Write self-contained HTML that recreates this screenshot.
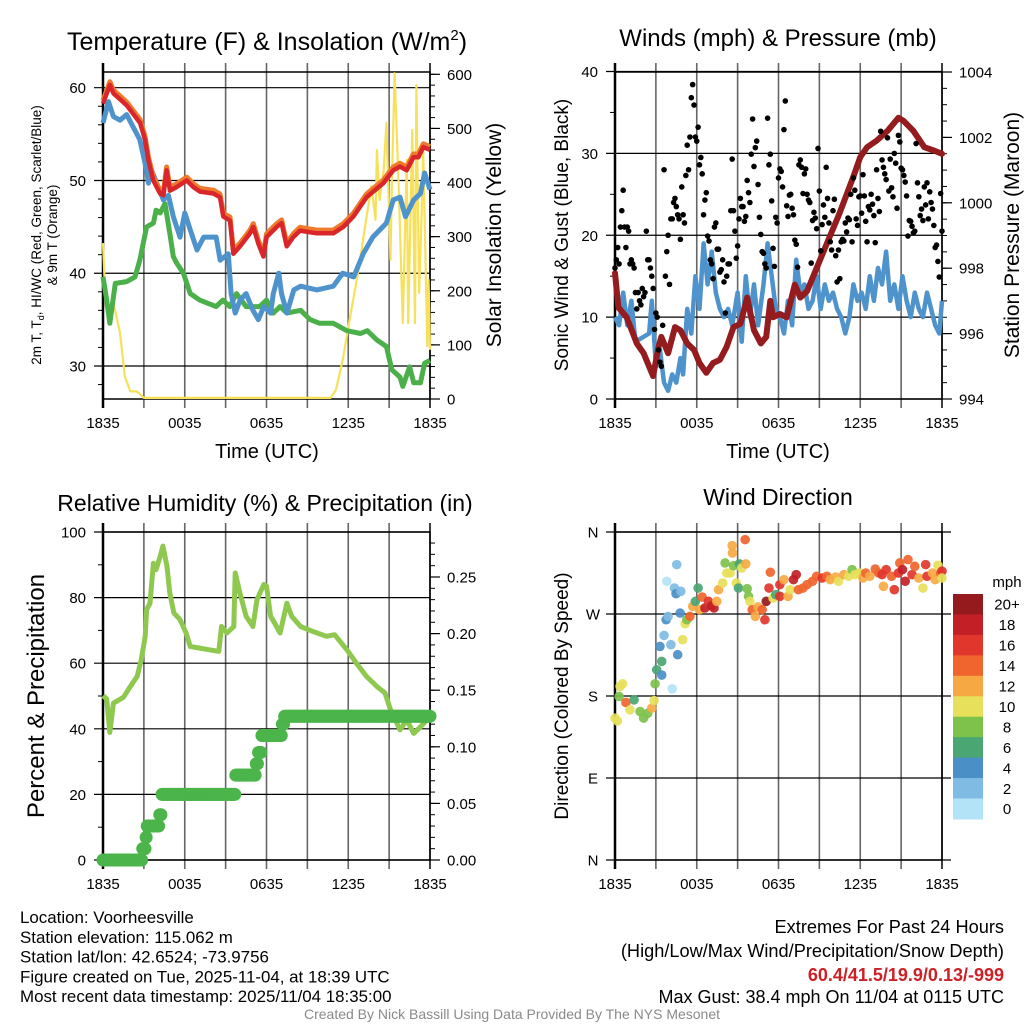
<!DOCTYPE html>
<html><head><meta charset="utf-8">
<style>
html,body{margin:0;padding:0;background:#fff;}
svg{display:block;font-family:"Liberation Sans",sans-serif;}
</style></head>
<body>
<svg id="fig" width="1024" height="1024" viewBox="0 0 1024 1024" xmlns="http://www.w3.org/2000/svg"></svg>
<script>
// ---------- DATA ----------
const tempHours=[0,0.51,0.76,1.74,2.72,3.08,3.33,3.69,4.18,4.43,4.67,4.92,5.41,6.14,6.63,7.12,8.10,8.59,8.83,9.32,9.57,10.06,10.79,11.03,11.40,11.77,12.01,12.75,13.11,13.48,13.97,14.46,15.68,16.90,17.64,18.37,19.35,20.57,21.31,21.80,22.29,22.78,23.14,23.51,24];
const tempVals=[58.3,60.3,59.4,58.1,56.2,54.4,52.2,50.0,48.6,48.4,51.1,48.9,49.3,50.0,49.3,48.8,48.6,48.2,46.1,45.7,42.1,42.9,44.3,45.0,43.2,41.8,43.9,45.0,45.4,42.9,43.9,44.6,44.3,44.3,45.0,46.1,48.2,49.7,51.1,51.5,51.1,52.5,52.5,53.6,53.3];
const wcHours=[0,0.4,0.76,1.25,1.74,2.2,2.7,3.2,3.33,3.57,4.43,4.8,5.16,5.65,6.0,6.4,6.9,7.4,8.3,8.6,9.2,9.4,9.7,10.06,10.5,11.0,11.4,11.8,12.3,12.5,12.9,13.1,13.5,14.0,14.5,15.7,16.9,17.6,18.4,19.1,19.8,20.8,21.3,21.8,22.2,22.8,23.3,23.6,24];
const wcVals=[56.2,58.5,56.9,56.5,57.1,55.8,54.4,51.1,49.7,51.1,47.9,48.4,46.1,43.9,46.5,44.7,42.5,43.9,43.9,41.4,42.1,37.8,35.7,37.1,37.8,36.0,35.0,36.4,35.7,37.8,40.0,37.8,35.7,38.2,38.6,38.2,38.6,40.0,39.6,42.1,43.9,45.4,47.9,48.2,46.1,47.9,48.6,50.8,49.0];
const dewHours=[0,0.27,0.5,0.9,1.74,2.35,2.7,3.2,3.7,3.9,4.2,4.55,4.9,5.16,5.4,5.9,6.4,7.1,8.3,8.8,9.3,9.8,10.5,11.5,12.0,12.5,13.0,13.5,14.5,15.2,15.9,16.9,17.9,18.9,19.4,20.1,20.8,21.2,21.8,22.0,22.5,22.8,23.3,23.6,24];
const dewVals=[39.6,37.1,34.6,38.9,39.1,39.6,41.4,45.0,45.4,46.8,46.5,47.5,44.3,41.8,41.1,40.0,37.8,37.1,36.4,37.1,36.4,37.8,36.4,36.4,37.1,35.7,36.4,35.7,36.0,35.0,34.6,34.6,33.8,33.5,33.8,32.8,32.1,29.6,28.8,27.8,29.9,28.2,28.2,30.3,30.6];
const solarHours=[0,0.2,0.5,0.8,1.25,1.6,2.0,2.5,3.0,16.7,17.1,17.6,18.1,18.8,19.35,19.7,20.0,20.1,20.3,20.6,20.8,21.1,21.2,21.4,21.7,22.0,22.3,22.4,22.7,22.9,23.0,23.2,23.4,23.5,23.8,23.9,24];
const solarVals=[288,171,159,174,122,42,14,14,2,2,17,73,146,245,337,393,331,460,368,423,510,257,393,602,393,140,442,140,497,140,580,196,350,460,97,220,91];
const windHours=[0,0.3,0.6,0.9,1.2,1.5,2.0,2.5,2.7,3.0,3.3,3.6,3.9,4.2,4.5,4.8,5.0,5.3,5.6,5.9,6.2,6.5,6.8,7.1,7.4,7.7,8.0,8.3,8.6,9.0,9.3,9.6,9.9,10.2,10.5,10.9,11.2,11.5,11.8,12.1,12.4,12.7,13.0,13.3,13.6,13.9,14.2,14.5,14.8,15.1,15.4,15.7,16.0,16.3,16.6,16.9,17.2,17.5,17.8,18.1,18.4,18.7,19.0,19.3,19.6,19.9,20.2,20.5,20.8,21.1,21.4,21.7,22.0,22.3,22.6,22.9,23.2,23.5,23.8,24];
const windVals=[10,9,13,9,12,7,7.5,8,12,4,6,2,1,3,2,5,3,11,8,15,11,19,14,18,13,11,10,11,9,13,7,15,10,14,9,14,19,15,11,10,8,12,9,17,13,14,11,12,15,11,14,12,13,11,10,8,10,14,12,13,11,15,12,16,14,18,12,14,11,15,12,10,13,11,10,13,11,9,8,12];
const presHours=[0,0.25,0.86,1.6,2.1,2.8,3.2,3.4,3.9,4.4,4.8,5.3,5.8,6.2,6.7,7.2,7.7,8.2,8.7,9.2,9.7,10.2,10.7,11.1,11.4,11.6,12.1,12.6,13.2,13.6,14.1,14.8,15.6,16.5,17.5,18.0,18.5,19.2,20.0,20.4,20.8,21.2,21.9,22.7,23.4,24];
const presVals=[997.85,996.8,996.5,995.7,995.4,994.7,995.6,995.9,995.4,996.2,996.1,995.7,995.5,995.1,994.8,995.1,995.2,995.6,996.2,996.3,997.1,996.1,995.7,995.9,997.0,996.5,996.6,996.5,997.5,997.1,997.3,998.0,998.8,999.7,1000.8,1001.4,1001.7,1001.9,1002.2,1002.4,1002.6,1002.5,1002.2,1001.7,1001.6,1001.5];
const gustVals=[16,17,18.5,16.5,21,23,25.5,21,18.5,21,20.5,16.5,17,16.5,16,13,11,13,12,11.5,13.5,12.5,13,20.5,17,17,16,15,13.5,8.5,10.5,10,6,4.5,4,9,28,15,18,20,14,22,22,24,24.5,23.5,22.5,22,19.5,25.9,22.5,21.5,27.3,31,28,32,36.8,38.4,35.9,32,31.5,33.2,28.6,29.5,27.5,22.5,24.3,25.2,19.9,19.3,17,16.5,14.7,21,21.5,18.3,18.3,15.5,15.8,17,14.3,10.5,15,16.5,16.5,23,29.3,23,20.5,17.2,18.7,22,24.5,23.5,23.5,21.7,22.3,26.7,25.2,24,29.9,34.2,28.4,30.7,31.5,26.2,22.2,20.1,18,17.8,16.5,16,34.3,28.6,29.9,24.2,18.4,16.2,22.2,21.5,27,28.1,27.8,25.9,32.9,36.4,23.6,22.3,24.9,25,23.3,22.5,19.4,18.9,16.1,28.6,29.2,28.3,25.1,27.5,28.1,25,24.3,24,16.6,21.8,22.8,22.1,20.8,30.6,25.4,18.1,21.3,23.7,22.2,28.3,24.5,21.5,19.2,18.2,23,24.4,17.5,14.3,18.2,14.7,19.2,19.5,19.3,21.5,20.4,22.1,21.9,25,19.2,27,25.5,22,21.2,24.7,24.8,22.7,27.4,24.8,21.7,19.2,23.5,23.1,25,23.8,22.4,19.1,28,24.5,22.9,32.7,29.2,28.3,27.5,26.8,31.9,25.4,29.3,25.8,24.7,30,28.8,23.3,32.2,31.4,28.2,28,27.3,26.5,24.8,19.9,21.8,21.7,21.1,20.3,20.5,31.2,26.4,24.7,22.4,23.2,21.8,25.9,23.7,26.4,22.0,25.3,24,23.2,21.2,18.5,18.8,16.8,14.9,25.1,20.5];
const rhHours=[0,0.27,0.5,0.76,1.5,2.0,2.5,2.8,3.1,3.2,3.45,3.7,3.9,4.2,4.4,4.7,4.9,5.2,5.65,6.1,6.4,7.1,7.8,8.5,8.7,9.1,9.6,9.7,10.05,10.5,11.0,11.3,11.8,12.0,12.3,12.6,13.0,13.5,13.85,14.5,15.4,16.4,17.0,17.9,18.6,19.35,20.1,20.7,21.1,21.8,22.3,22.8,23.3,24];
const rhVals=[50.1,49.1,38.9,47.8,49.6,52.9,55.9,61.0,68.2,76.3,78.3,90.5,88.5,92.6,95.7,89.5,81.4,75.3,73.3,69.2,65.1,64.6,64.1,63.6,71.2,69.2,71.2,87.5,81.4,74.3,71.2,79.4,84.0,83.5,74.3,72.2,69.2,78.3,74.3,71.2,69.7,68.2,68.7,64.1,60.0,55.9,52.9,50.9,45.8,39.7,42.7,38.6,40.6,43.7];
const precipHours=[0,2.7,2.9,3.1,3.2,3.9,4.1,4.3,9.6,9.7,11.0,11.2,11.4,11.6,13.0,13.1,13.3,24];
const precipVals=[0,0,0.01,0.02,0.03,0.03,0.04,0.058,0.058,0.075,0.075,0.085,0.095,0.11,0.11,0.12,0.127,0.127];
const wdHours=[0,0.17,0.37,0.56,0.3,0.8,1.1,1.4,1.84,2.1,2.4,2.7,2.87,2.94,3.06,3.43,3.43,3.3,3.6,3.75,3.8,3.9,4.1,4.2,4.36,4.48,4.53,4.6,4.78,4.83,4.97,5.15,5.27,5.5,5.7,5.9,6.1,6.2,6.4,6.6,6.86,7.1,7.27,7.47,7.6,7.9,8.08,8.2,8.45,8.62,8.6,8.7,8.9,9.06,9.13,9.3,9.55,9.6,9.7,9.8,9.9,10.07,10.3,10.5,10.8,11.0,11.1,11.3,11.4,11.6,11.8,12.1,12.1,12.4,12.7,12.85,13.1,13.3,13.46,13.8,14.1,14.5,14.8,15.2,15.55,15.8,16.2,16.4,16.8,17.15,17.4,17.6,17.96,18.2,18.4,18.7,19.1,19.35,19.6,19.7,19.9,20.3,20.5,20.8,20.9,21.1,21.3,21.5,21.8,22.0,22.3,22.6,22.8,22.9,23.3,23.5,23.7,23.9,24,24];
const wdDirs=[155.7,152.7,190.5,193.4,179.5,172.9,164.8,175.8,163,155.7,161,166.7,175,193.4,208.8,218,203,234.4,246.5,263.7,305.9,267.4,236.3,187.9,298.5,292.3,324.2,225.3,271,294.9,241.8,259.3,263.7,267.4,278.4,283.9,298.5,274.7,288.6,276.6,283.9,279,276.6,283.9,296.7,304,326,315,315,337,345,323,304,298.5,325,320.5,351.6,325,297.8,289.4,283.9,274.7,267.4,277.7,274.7,263.7,283.9,298.5,315.8,287.5,291.2,302.2,289.4,307.7,289.4,296.7,307.7,313.2,296.7,298.5,302.2,305.9,311.4,309.5,311.4,307.7,310.6,305.9,313.2,311.4,318.7,313.2,315,309.5,315,311.4,319.4,315,313.2,300.4,318.7,311.4,296.7,315,326,318.7,305.9,329.7,313.2,322.3,309.5,298.5,324.2,311.4,315,307.7,323.5,315,317,309.5];
const wdSpeeds=[10,10,10,10,8,14,10,6,8,8,8,12,10,8,6,6,4,4,3,4,0,2,2,0,2,4,2,4,4,2,10,10,8,14,12,6,6,12,14,18,16,18,18,12,12,10,8,10,10,12,12,8,10,6,6,10,14,12,8,8,10,14,12,12,14,16,20,16,14,10,6,16,16,12,12,10,18,18,14,14,14,14,14,16,14,12,12,10,12,10,8,10,10,12,14,12,14,14,16,12,16,14,16,16,14,18,18,14,16,14,12,10,16,16,12,12,10,14,16,10];
const binLabels=['0','2','4','6','8','10','12','14','16','18','20+'];
const binColors=['#b3e3f7','#7fbbe3','#4a8fc6','#4aa673','#7dc24b','#e6e05a','#f6a943','#ef652d','#e0362b','#c21f27','#951a1d'];
const timeTickHours=[0,6,12,18,24];
const timeTickLabels=['1835','0035','0635','1235','1835'];

// ---------- HELPERS ----------
const NS='http://www.w3.org/2000/svg';
const svg=document.getElementById('fig');
function mk(tag,attrs,parent){const e=document.createElementNS(NS,tag);for(const k in attrs)e.setAttribute(k,attrs[k]);(parent||svg).appendChild(e);return e;}
function txt(str,x,y,size,anchor,parent,extra){const e=mk('text',Object.assign({x:x,y:y,'font-size':size,'text-anchor':anchor||'middle',fill:'#000'},extra||{}),parent);e.textContent=str;return e;}
function xScale(p,h){return p.x0+h/24*(p.x1-p.x0);}
function linY(y0v,y0p,y1v,y1p){return v=>y0p+(v-y0v)*(y1p-y0p)/(y1v-y0v);}
function pathD(p,hs,vs,ys){let d='';for(let i=0;i<hs.length;i++){d+=(i?'L':'M')+xScale(p,hs[i]).toFixed(1)+','+ys(vs[i]).toFixed(1);}return d;}

const P1={x0:103,x1:430,y0:72,y1:399};
const P2={x0:615,x1:942,y0:72,y1:399};
const P3={x0:103,x1:430,y0:532,y1:860};
const P4={x0:615,x1:942,y0:532,y1:860};

function frame(p,g,hTicks,hScale,extRight){
  for(let h=3;h<24;h+=3){const l=mk('line',{x1:xScale(p,h),x2:xScale(p,h),y1:p.y0-9,y2:p.y1+9,stroke:'#666','stroke-width':1.6},g);}
  for(const v of hTicks){const y=hScale(v);const l=mk('line',{x1:p.x0-9,x2:p.x1+(extRight||0),y1:y,y2:y,stroke:'#000','stroke-width':1.2},g);}
  const b=mk('rect',{x:p.x0,y:p.y0,width:p.x1-p.x0,height:p.y1-p.y0,fill:'none',stroke:'#000','stroke-width':1.5},g);
  mk('line',{x1:p.x0,x2:p.x0,y1:p.y0-9,y2:p.y1+9,stroke:'#000','stroke-width':2.5},g);
  mk('line',{x1:p.x1,x2:p.x1,y1:p.y0-9,y2:p.y1+9,stroke:'#000','stroke-width':1.5},g);
  timeTickHours.forEach((h,i)=>{const t=txt(timeTickLabels[i],xScale(p,h),p.y1+29,15,'middle',g);});
}
function rightAxis(p,g,major,minor,ys,fmt){
  for(const v of minor){const y=ys(v);mk('line',{x1:p.x1,x2:p.x1+5,y1:y,y2:y,stroke:'#000','stroke-width':1},g);}
  for(const v of major){const y=ys(v);mk('line',{x1:p.x1,x2:p.x1+10,y1:y,y2:y,stroke:'#000','stroke-width':1.2},g);const t=txt(fmt(v),p.x1+17,y+5.5,15,'start',g);}
}
function leftLabels(p,g,major,ys,fmt){for(const v of major){const t=txt(fmt(v),p.x0-17,ys(v)+5.5,15,'end',g);}}
function range(a,b,s){const r=[];for(let v=a;v<=b+1e-9;v+=s)r.push(+v.toFixed(4));return r;}

// ---------- PANEL 1 ----------
{const p=P1;const g=mk('g',{});
 const yT=linY(60,87.7,30,366);const yS=linY(0,399,600,74.3);
 const t=txt('',267,50,25,'middle',g);t.textContent='Temperature (F) & Insolation (W/m';const sup=mk('tspan',{'font-size':15,dy:-10},t);sup.textContent='2';const cl=mk('tspan',{dy:10},t);cl.textContent=')';
 frame(p,g,[30,40,50,60],yT);
 for(const v of [28,32,34,36,38,42,44,46,48,52,54,56,58]){mk('line',{x1:p.x0-5,x2:p.x0,y1:yT(v),y2:yT(v),stroke:'#000','stroke-width':1},g);}
 leftLabels(p,g,[30,40,50,60],yT,v=>String(v));
 rightAxis(p,g,range(0,600,100),range(0,600,20),yS,v=>String(v));
 const s=mk('path',{d:pathD(p,solarHours,solarVals,yS),fill:'none',stroke:'#f7e05a','stroke-width':2.2,'stroke-linejoin':'round'},g);
 const dp=mk('path',{d:pathD(p,dewHours,dewVals,yT),fill:'none',stroke:'#4bb04a','stroke-width':5,'stroke-linejoin':'round'},g);
 const wc=mk('path',{d:pathD(p,wcHours,wcVals,yT),fill:'none',stroke:'#4f93cc','stroke-width':5,'stroke-linejoin':'round'},g);
 const o=mk('path',{d:pathD(p,tempHours,tempVals.map(v=>v+0.35),yT),fill:'none',stroke:'#f07a2c','stroke-width':5,'stroke-linejoin':'round'},g);
 const r=mk('path',{d:pathD(p,tempHours,tempVals,yT),fill:'none',stroke:'#d9262a','stroke-width':4.5,'stroke-linejoin':'round'},g);
 const a=txt('Time (UTC)',267,458,20,'middle',g);
 const l1=txt('2m T, T',0,0,13.5,'middle',g,{transform:'translate(41,235) rotate(-90)'});const sb=mk('tspan',{'font-size':9,dy:3},l1);sb.textContent='d';const rest=mk('tspan',{dy:-3},l1);rest.textContent=', HI/WC (Red, Green, Scarlet/Blue)';
 const l2=txt('& 9m T (Orange)',0,0,13.5,'middle',g,{transform:'translate(57,235) rotate(-90)'});
 const r2=txt('Solar Insolation (Yellow)',0,0,21,'middle',g,{transform:'translate(501,235) rotate(-90)'});
}
// ---------- PANEL 2 ----------
{const p=P2;const g=mk('g',{});
 const yW=linY(0,399,40,71.5);const yP=linY(994,399,1004,72);
 const t=txt('Winds (mph) & Pressure (mb)',778,46,24,'middle',g);
 frame(p,g,[0,10,20,30,40],yW);
 for(const v of [5,15,25,35]){mk('line',{x1:p.x0-5,x2:p.x0,y1:yW(v),y2:yW(v),stroke:'#000','stroke-width':1},g);}
 leftLabels(p,g,[0,10,20,30,40],yW,v=>String(v));
 rightAxis(p,g,range(994,1004,2),range(994,1004,0.5),yP,v=>String(v));
 const w=mk('path',{d:pathD(p,windHours,windVals,yW),fill:'none',stroke:'#4f93cc','stroke-width':4.5,'stroke-linejoin':'round'},g);
 const pr=mk('path',{d:pathD(p,presHours,presVals,yP),fill:'none',stroke:'#941b1e','stroke-width':6,'stroke-linejoin':'round','stroke-linecap':'round'},g);
 gustVals.forEach((v,i)=>{const h=i/(gustVals.length-1)*24;const c=mk('circle',{cx:xScale(p,h),cy:yW(v),r:2.8,fill:'#000'},g);});
 const a=txt('Time (UTC)',778,458,20,'middle',g);
 const l=txt('Sonic Wind & Gust (Blue, Black)',0,0,19,'middle',g,{transform:'translate(568,235) rotate(-90)'});
 const r=txt('Station Pressure (Maroon)',0,0,21,'middle',g,{transform:'translate(1019,235) rotate(-90)'});
}
// ---------- PANEL 3 ----------
{const p=P3;const g=mk('g',{});
 const yR=linY(0,860,100,532);const yPr=linY(0,860,0.25,577);
 const t=txt('Relative Humidity (%) & Precipitation (in)',265,511,23,'middle',g);
 frame(p,g,[0,20,40,60,80,100],yR);
 for(const v of [10,30,50,70,90]){mk('line',{x1:p.x0-5,x2:p.x0,y1:yR(v),y2:yR(v),stroke:'#000','stroke-width':1},g);}
 leftLabels(p,g,[0,20,40,60,80,100],yR,v=>String(v));
 rightAxis(p,g,range(0,0.25,0.05),range(0,0.28,0.01),yPr,v=>v.toFixed(2));
 const rh=mk('path',{d:pathD(p,rhHours,rhVals,yR),fill:'none',stroke:'#8fc84f','stroke-width':5,'stroke-linejoin':'round'},g);
 for(let m=0;m<=24*60;m+=5){const h=m/60;let v=0;for(let i=0;i<precipHours.length;i++){if(precipHours[i]<=h)v=precipVals[i];}
  const c=mk('circle',{cx:xScale(p,h),cy:yPr(v),r:6.5,fill:'#4bb44a'},g);}
 const l=txt('Percent & Precipitation',0,0,24,'middle',g,{transform:'translate(44,696) rotate(-90)'});
}
// ---------- PANEL 4 ----------
{const p=P4;const g=mk('g',{});
 const yD=linY(0,860,360,532);
 const t=txt('Wind Direction',778,505,23,'middle',g);
 frame(p,g,[0,90,180,270,360],yD,9);
 const dl=['N','E','S','W','N'];[0,90,180,270,360].forEach((v,i)=>{const e=txt(dl[i],p.x0-22,yD(v)+5.5,15,'middle',g);});
 wdHours.forEach((h,i)=>{const b=Math.min(10,Math.floor(wdSpeeds[i]/2));const c=mk('circle',{cx:xScale(p,h),cy:yD(wdDirs[i]),r:4.8,fill:binColors[b],opacity:0.92},g);});
 const l=txt('Direction (Colored By Speed)',0,0,19,'middle',g,{transform:'translate(568,696) rotate(-90)'});
 const cb=mk('g',{},g);
 const u=txt('mph',1007,587,15,'middle',cb);
 const top=594,bh=20.45;
 for(let k=0;k<11;k++){const idx=10-k;const rr=mk('rect',{x:953,y:top+k*bh,width:30,height:bh+0.5,fill:binColors[idx]},cb);
  const tl=txt(binLabels[idx],1007,top+k*bh+bh/2+5.5,15,'middle',cb);}
}
// ---------- FOOTER ----------
{const g=mk('g',{});
 const left=['Location: Voorheesville','Station elevation: 115.062 m','Station lat/lon: 42.6524; -73.9756','Figure created on Tue, 2025-11-04, at 18:39 UTC','Most recent data timestamp: 2025/11/04 18:35:00'];
 left.forEach((s,i)=>{const e=txt(s,20,923+i*19.8,16.9,'start',g);});
 const e1=txt('Extremes For Past 24 Hours',1004,933,18.2,'end',g);
 const e2=txt('(High/Low/Max Wind/Precipitation/Snow Depth)',1004,957,18.2,'end',g);
 const e3=txt('60.4/41.5/19.9/0.13/-999',1004,981,18,'end',g,{fill:'#cc2127','font-weight':'bold'});
 const e4=txt('Max Gust: 38.4 mph On 11/04 at 0115 UTC',1004,1003,18,'end',g);
 const e5=txt('Created By Nick Bassill Using Data Provided By The NYS Mesonet',512,1019,14,'middle',g,{fill:'#8a8a8a'});
}
</script>
</body></html>
